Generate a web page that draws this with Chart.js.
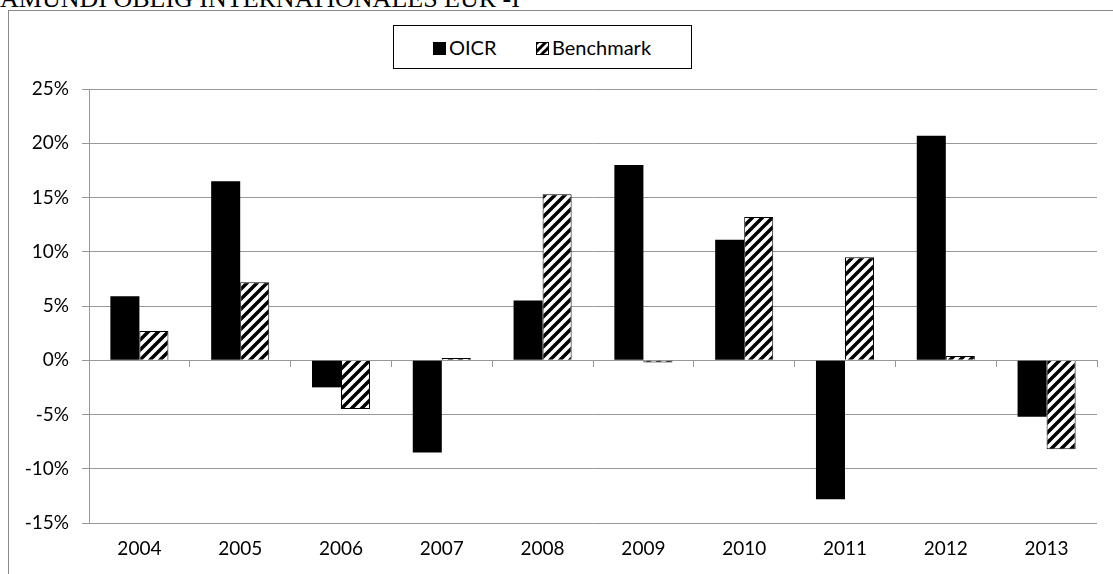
<!DOCTYPE html>
<html>
<head>
<meta charset="utf-8">
<script src="https://cdn.jsdelivr.net/npm/chart.js@4.4.1/dist/chart.umd.min.js"></script>
<style>
  html, body { margin: 0; padding: 0; width: 1113px; height: 574px; overflow: hidden; background: #fff; }
  #title { position: absolute; left: 0px; top: -14px; font-family: "Liberation Serif", "Times New Roman", serif; font-size: 26px; line-height: 26px; color: #000; white-space: nowrap; }
  #frame { position: absolute; left: 8px; top: 10px; width: 1200px; height: 700px; border-left: 1px solid #8a8a8a; border-top: 1px solid #8a8a8a; }
  #wrap { position: absolute; left: 0; top: 0; width: 1113px; height: 574px; }
  #legend { position: absolute; left: 393px; top: 25px; width: 297px; height: 42px; border: 1px solid #000; background: #fff; font-family: Lato, "Open Sans", sans-serif; font-size: 20px; color: #000; }
  .item { position: absolute; top: 0; height: 42px; line-height: 42px; white-space: nowrap; }
  .sw { display: inline-block; width: 13px; height: 13px; vertical-align: middle; margin-right: 3px; position: relative; top: -1px; box-sizing: border-box; }
</style>
</head>
<body>
<div id="title">AMUNDI OBLIG INTERNATIONALES EUR -I</div>
<div id="frame"></div>
<div id="wrap"><canvas id="c" width="1113" height="574"></canvas></div>
<div id="legend">
  <div class="item" style="left:39px"><span class="sw" style="background:#000"></span>OICR</div>
  <div class="item" style="left:142px"><span class="sw" id="bsw" style="border:1px solid #000"></span>Benchmark</div>
</div>
<script>
const categories = ["2004","2005","2006","2007","2008","2009","2010","2011","2012","2013"];
const oicrValues = [5.9, 16.5, -2.5, -8.5, 5.5, 18.0, 11.1, -12.8, 20.7, -5.2];
const benchmarkValues = [2.7, 7.2, -4.5, 0.2, 15.3, -0.2, 13.2, 9.5, 0.4, -8.2];
const yTicks = [-15, -10, -5, 0, 5, 10, 15, 20, 25];
const seriesNames = ["OICR", "Benchmark"];

function makeHatch(s, lw) {
  const p = document.createElement('canvas');
  p.width = s; p.height = s;
  const g = p.getContext('2d');
  g.fillStyle = '#fff'; g.fillRect(0, 0, s, s);
  g.strokeStyle = '#000'; g.lineWidth = lw; g.lineCap = 'butt';
  g.beginPath();
  g.moveTo(-s, s); g.lineTo(s, -s);
  g.moveTo(-1, s + 1); g.lineTo(s + 1, -1);
  g.moveTo(0, 2 * s); g.lineTo(2 * s, 0);
  g.stroke();
  return p;
}
const hatchCanvas = makeHatch(10, 3.5);
const ctx = document.getElementById('c').getContext('2d');
const hatch = ctx.createPattern(hatchCanvas, 'repeat');
document.getElementById('bsw').style.background = 'url(' + makeHatch(8, 3).toDataURL() + ')';

const gridGray = '#989898';
const axisFont = { family: 'Lato, "Open Sans", sans-serif', size: 19 };

new Chart(ctx, {
  type: 'bar',
  data: {
    labels: categories,
    datasets: [
      { label: seriesNames[0], data: oicrValues, backgroundColor: '#000', borderWidth: 0, xAxisID: 'x', yAxisID: 'y' },
      { label: seriesNames[1], data: benchmarkValues, backgroundColor: hatch, borderColor: '#000', borderWidth: 1, xAxisID: 'x', yAxisID: 'y' }
    ]
  },
  options: {
    responsive: false,
    animation: false,
    events: [],
    layout: { padding: { left: 0, right: 16, top: 89, bottom: 0 } },
    datasets: { bar: { barPercentage: 1.0, categoryPercentage: 0.576 } },
    plugins: { legend: { display: false }, title: { display: false }, tooltip: { enabled: false } },
    scales: {
      y: {
        min: -15, max: 25,
        afterBuildTicks: (s) => { s.ticks = yTicks.map(v => ({ value: v })); },
        afterFit: (s) => { s.width = 89; },
        ticks: { color: '#000', font: axisFont, padding: 13, callback: (v) => v + '%' },
        grid: { color: gridGray, lineWidth: 1, tickLength: 7, drawTicks: true },
        border: { display: true, color: gridGray, width: 1 }
      },
      x: {
        position: 'bottom',
        afterFit: (s) => { s.height = 51; },
        ticks: { color: '#000', font: axisFont, padding: 14, maxRotation: 0 },
        grid: { display: false, drawTicks: false },
        border: { display: false }
      },
      x2: {
        type: 'category',
        position: { y: 0 },
        labels: categories,
        offset: true,
        ticks: { display: false },
        grid: { drawOnChartArea: false, offset: true, color: gridGray, tickLength: 6, drawTicks: true },
        border: { display: true, color: gridGray, width: 1 }
      }
    }
  }
});
</script>
</body>
</html>
